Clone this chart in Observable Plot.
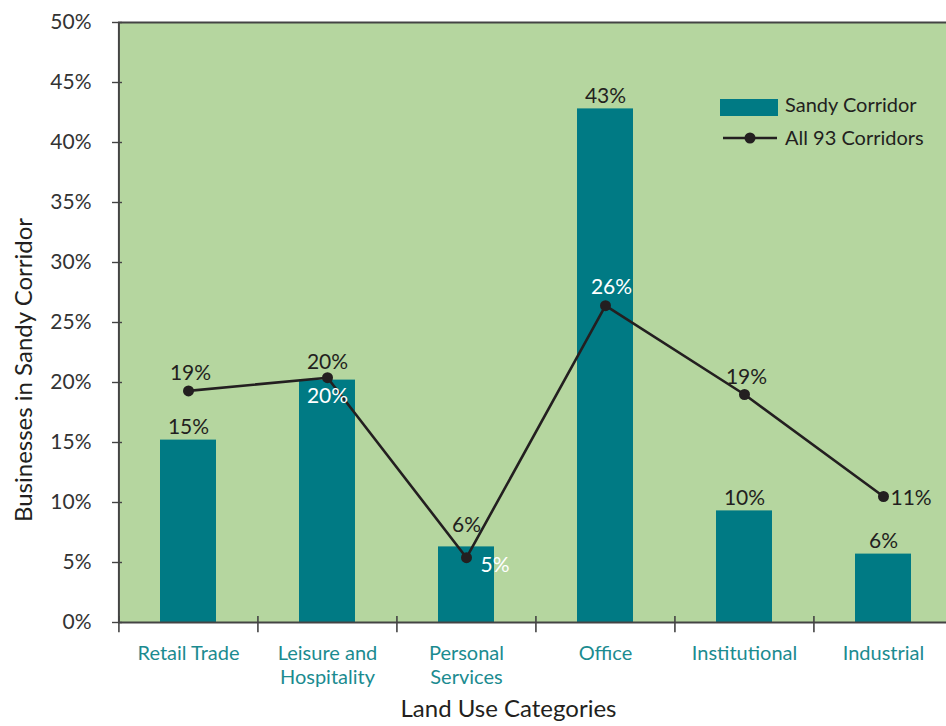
<!DOCTYPE html>
<html><head><meta charset="utf-8">
<script src="https://cdn.jsdelivr.net/npm/d3@7"></script>
<script src="https://cdn.jsdelivr.net/npm/@observablehq/plot@0.6"></script>
<style>
body{margin:0;background:#fff;}
#chart{position:relative;width:946px;height:726px;}
</style>
</head><body><div id="chart"></div>
<script>
const categories = ["Retail Trade", "Leisure and\nHospitality", "Personal\nServices", "Office", "Institutional", "Industrial"];
const sandyValues = [15.2, 20.2, 6.3, 42.8, 9.3, 5.7];
const sandyLabels = ["15%", "20%", "6%", "43%", "10%", "6%"];
const allValues = [19.3, 20.4, 5.4, 26.4, 19.0, 10.5];
const allLabels = ["19%", "20%", "5%", "26%", "19%", "11%"];
const yTicks = [0, 5, 10, 15, 20, 25, 30, 35, 40, 45, 50];
const seriesNames = ["Sandy Corridor", "All 93 Corridors"];
const xTitle = "Land Use Categories";
const yTitle = "Businesses in Sandy Corridor";

const data = categories.map((c, i) => ({cat: c, sandy: sandyValues[i], sLabel: sandyLabels[i], all: allValues[i], aLabel: allLabels[i]}));

const W = 946, H = 726, ML = 118, MT = 22, MB = 104;
const xRange = [ML, 953];
const step = (xRange[1] - xRange[0]) / categories.length;

const GREEN = "#b5d69f", TEAL = "#007a84", DARK = "#231f20", AXIS = "#444", CATC = "#1b8b90";
const by = (names) => data.filter(d => names.includes(d.cat));
const [RT, LH, PS, OF, IN, ID] = categories;
const FS = 21;

const plot = Plot.plot({
  width: W, height: H,
  marginLeft: ML, marginRight: 0, marginTop: MT, marginBottom: MB,
  style: {fontFamily: "Lato, 'Open Sans', sans-serif", fontSize: "20px", background: "#fff", color: DARK},
  x: {domain: categories, range: xRange, paddingInner: 0.6, paddingOuter: 0.3, label: null},
  y: {domain: [0, 50], label: null},
  marks: [
    Plot.frame({fill: GREEN, stroke: null}),
    Plot.barY(data, {x: "cat", y: "sandy", fill: TEAL}),
    Plot.ruleY([0, 50], {stroke: AXIS, strokeWidth: 2}),
    Plot.ruleX([categories[0]], {dx: -step / 2, y1: 0, y2: 50, stroke: AXIS, strokeWidth: 2}),
    Plot.ruleX(categories, {dx: -step / 2, y1: -0.85, y2: 0.5, stroke: AXIS, strokeWidth: 1.6}),
    Plot.axisY({ticks: yTicks, tickSize: 10, dx: 4, stroke: AXIS, strokeWidth: 1.4, tickFormat: () => ""}),
    Plot.axisY({ticks: yTicks, tickSize: 0, tickPadding: 27, tickFormat: d => d + "%", fill: "#333", fontSize: FS}),
    Plot.axisX({tickSize: 0, tickPadding: 21, lineAnchor: "top", lineHeight: 1.18, fill: CATC, fontSize: 20}),
    Plot.line(data, {x: "cat", y: "all", stroke: DARK, strokeWidth: 2.6}),
    Plot.dot(data, {x: "cat", y: "all", r: 5.5, fill: DARK, stroke: null}),
    // bar labels
    Plot.text(by([RT, OF, IN, ID]), {x: "cat", y: "sandy", text: "sLabel", lineAnchor: "bottom", dy: -6, fill: DARK, fontSize: FS}),
    Plot.text(by([PS]), {x: "cat", y: "sandy", text: "sLabel", lineAnchor: "bottom", dy: -15, fill: DARK, fontSize: FS}),
    Plot.text(by([LH]), {x: "cat", y: "sandy", text: "sLabel", lineAnchor: "bottom", dy: 23, fill: "#fff", fontSize: FS}),
    // line labels
    Plot.text(by([RT, IN]), {x: "cat", y: "all", text: "aLabel", lineAnchor: "bottom", dy: -11, dx: 2, fill: DARK, fontSize: FS}),
    Plot.text(by([LH]), {x: "cat", y: "all", text: "aLabel", lineAnchor: "bottom", dy: -9, fill: DARK, fontSize: FS}),
    Plot.text(by([OF]), {x: "cat", y: "all", text: "aLabel", lineAnchor: "bottom", dy: -12, dx: 6, fill: "#fff", fontSize: FS}),
    Plot.text(by([PS]), {x: "cat", y: "all", text: "aLabel", lineAnchor: "bottom", textAnchor: "start", dy: 14, dx: 14, fill: "#fff", fontSize: FS}),
    Plot.text(by([ID]), {x: "cat", y: "all", text: "aLabel", lineAnchor: "bottom", textAnchor: "start", dy: 8, dx: 7, fill: DARK, fontSize: FS}),
    // x axis title
    Plot.text([xTitle], {frameAnchor: "bottom", lineAnchor: "bottom", dx: -24, dy: 94, fill: DARK, fontSize: 24})
  ]
});

const svg = d3.select(plot);
// y axis title
svg.append("text")
  .attr("transform", "translate(22,370) rotate(-90)")
  .attr("text-anchor", "middle").attr("dominant-baseline", "central")
  .attr("font-size", 24).attr("fill", DARK)
  .text(yTitle);

// legend (inside plot area, top right)
const lg = svg.append("g").attr("font-size", 20).attr("fill", DARK).attr("text-anchor", "start");
lg.append("rect").attr("x", 720).attr("y", 99).attr("width", 58).attr("height", 17).attr("fill", TEAL);
lg.append("text").attr("x", 785).attr("y", 112).text(seriesNames[0]);
lg.append("line").attr("x1", 723).attr("x2", 777).attr("y1", 138).attr("y2", 138).attr("stroke", DARK).attr("stroke-width", 2.6);
lg.append("circle").attr("cx", 750).attr("cy", 138).attr("r", 5.5).attr("fill", DARK);
lg.append("text").attr("x", 785).attr("y", 145).text(seriesNames[1]);

document.getElementById("chart").appendChild(plot);
</script>
</body></html>
